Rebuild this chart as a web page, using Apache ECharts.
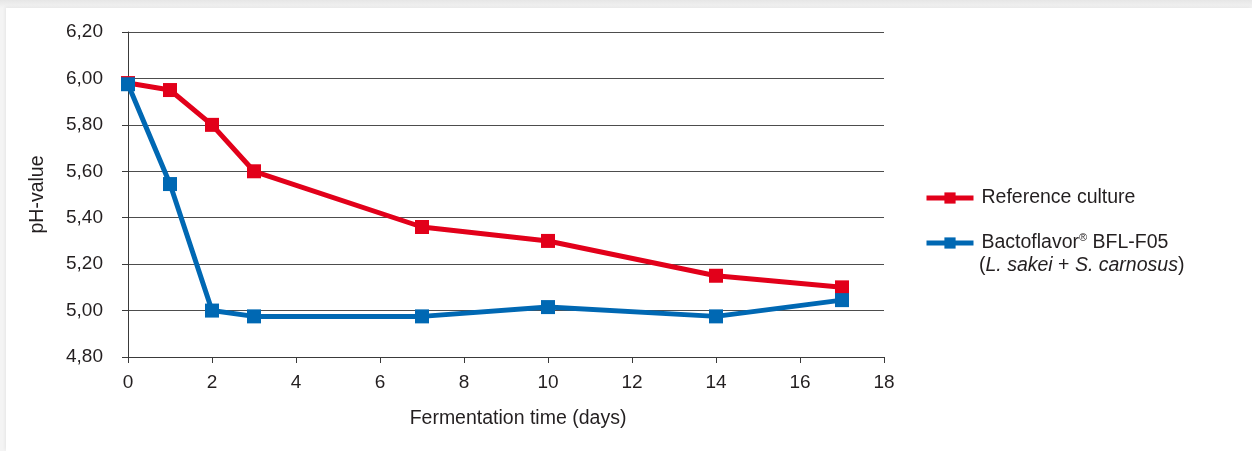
<!DOCTYPE html>
<html>
<head>
<meta charset="utf-8">
<script src="https://cdn.jsdelivr.net/npm/echarts@6/dist/echarts.min.js"></script>
<style>
  html, body { margin: 0; padding: 0; }
  body { width: 1252px; height: 451px; position: relative; overflow: hidden;
         background: linear-gradient(to bottom, #e6e6e6 0px, #f4f4f4 8px, #f4f4f4 100%); }
  #card { position: absolute; left: 6px; top: 8px; right: 0; bottom: 0; background: #fff;
          box-shadow: -1px -1px 3px rgba(0,0,0,0.06); }
  #chart { position: absolute; left: 0; top: 0; width: 1252px; height: 451px; }
</style>
</head>
<body>
<div id="card"></div>
<div id="chart"></div>
<script>
const days = [0, 1, 2, 3, 7, 10, 14, 17];
const referencePH = [5.98, 5.95, 5.80, 5.60, 5.36, 5.30, 5.15, 5.10];
const bactoflavorPH = [5.975, 5.545, 5.00, 4.975, 4.975, 5.015, 4.975, 5.045];
const seriesNames = ['Reference culture', 'Bactoflavor® BFL-F05'];
const xTitle = 'Fermentation time (days)';
const yTitle = 'pH-value';

const FONT = '"Liberation Sans", Arial, Helvetica, sans-serif';
const TXT = '#231f20';
const RED = '#e2001a';
const BLUE = '#0068b3';

const chart = echarts.init(document.getElementById('chart'), null, { renderer: 'canvas' });

function pairs(xs, ys) { return xs.map((x, i) => [x, ys[i]]); }

chart.setOption({
  backgroundColor: 'transparent',
  animation: false,
  textStyle: { fontFamily: FONT, color: TXT },
  grid: { left: 128, right: 368, top: 32, bottom: 94, containLabel: false },
  xAxis: {
    type: 'value', min: 0, max: 18, interval: 2,
    name: xTitle, nameLocation: 'middle', nameGap: 52,
    nameTextStyle: { fontFamily: FONT, fontSize: 19.5, color: TXT, padding: [0, 0, 0, 24] },
    axisLine: { show: true, lineStyle: { color: '#3a3a3a', width: 1 } },
    axisTick: { show: true, length: 6, lineStyle: { color: '#3a3a3a' } },
    axisLabel: { fontFamily: FONT, fontSize: 19, color: TXT, margin: 16 },
    splitLine: { show: false }
  },
  yAxis: {
    type: 'value', min: 4.8, max: 6.2, interval: 0.2,
    name: yTitle, nameLocation: 'middle', nameGap: 80, nameRotate: 90,
    nameTextStyle: { fontFamily: FONT, fontSize: 19.5, color: TXT },
    axisLine: { show: true, lineStyle: { color: '#3a3a3a', width: 1 } },
    axisTick: { show: true, length: 6, lineStyle: { color: '#3a3a3a' } },
    axisLabel: { fontFamily: FONT, fontSize: 19, color: TXT, margin: 25,
      formatter: v => v.toFixed(2).replace('.', ',') },
    splitLine: { show: true, lineStyle: { color: '#4d4d4d', width: 1 } }
  },
  legend: {
    orient: 'vertical', left: 924, top: 187, padding: 0,
    itemWidth: 47, itemHeight: 14, itemGap: 23,
    lineStyle: { width: 5 },
    textStyle: {
      fontFamily: FONT, fontSize: 19.5, color: TXT, lineHeight: 22, padding: [0, 0, 0, 3],
      rich: {
        a: { fontFamily: FONT, fontSize: 19.5, color: TXT, lineHeight: 22 },
        sup: { fontFamily: FONT, fontSize: 11, color: TXT, verticalAlign: 'top', lineHeight: 22, padding: [0, 0, 6, 0] }
      }
    },
    formatter: name => {
      if (name.indexOf('®') >= 0) {
        const parts = name.split('®');
        return '{a|' + parts[0] + '}{sup|®}{a|' + parts[1] + '}';
      }
      return '{a|' + name + '}';
    },
    data: seriesNames
  },
  graphic: [{
    type: 'text', left: 979, top: 256,
    style: {
      text: '{a|(}{i|L. sakei}{a| + }{i|S. carnosus}{a|)}',
      rich: {
        a: { fontFamily: FONT, fontSize: 19.5, fill: TXT, lineHeight: 22 },
        i: { fontFamily: FONT, fontSize: 19.5, fontStyle: 'italic', fill: TXT, lineHeight: 22 }
      }
    }
  }],
  series: [
    {
      name: seriesNames[0], type: 'line', data: pairs(days, referencePH),
      symbol: 'rect', symbolSize: 14, showAllSymbol: true,
      lineStyle: { color: RED, width: 5 }, itemStyle: { color: RED }
    },
    {
      name: seriesNames[1], type: 'line', data: pairs(days, bactoflavorPH),
      symbol: 'rect', symbolSize: 14, showAllSymbol: true,
      lineStyle: { color: BLUE, width: 5 }, itemStyle: { color: BLUE }
    }
  ]
});
</script>
</body>
</html>
